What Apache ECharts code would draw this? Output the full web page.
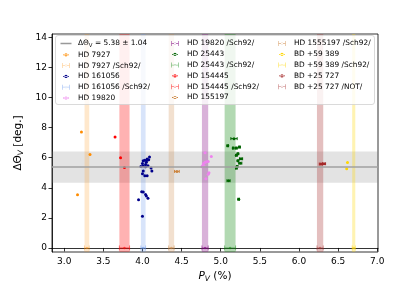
<!DOCTYPE html>
<html><head><meta charset="utf-8">
<script src="https://cdn.jsdelivr.net/npm/echarts@6/dist/echarts.min.js"></script>
<style>html,body{margin:0;padding:0;background:#fff}#c{width:420px;height:289px}</style>
</head><body><div id="c"></div>
<script>
// ---- data ----
const xTicks = [3.0, 3.5, 4.0, 4.5, 5.0, 5.5, 6.0, 6.5, 7.0];
const yTicks = [0, 2, 4, 6, 8, 10, 12, 14];
const meanDTheta = 5.38, stdDTheta = 1.04;

const hd7927_P = [3.22, 3.33, 3.17];
const hd7927_T = [7.71, 6.22, 3.53];

const hd154445_P = [3.65, 3.72, 3.77];
const hd154445_T = [7.38, 6.00, 5.35];

const hd161056_P = [4.09, 4.06, 4.03, 4.06, 4.01, 4.08, 4.00, 4.04, 4.05, 3.98, 4.01, 4.04, 4.07, 4.11, 4.01, 4.12, 4.00, 4.03, 4.06, 3.99, 4.01, 4.04, 4.05, 4.07, 3.95, 4.00];
const hd161056_T = [6.05, 5.92, 5.83, 5.83, 5.80, 5.87, 5.62, 5.55, 5.70, 5.42, 5.45, 5.40, 5.47, 5.31, 5.11, 5.11, 4.93, 4.80, 4.80, 3.74, 3.72, 3.55, 3.45, 3.31, 3.20, 2.10];

const hd155197_P = [4.44];
const hd155197_T = [5.09];
const hd155197_E = [0.03];

const hd19820_P = [4.80, 4.88, 4.82, 4.80, 4.84, 4.78, 4.77, 4.76, 4.79, 4.85, 4.84, 4.81];
const hd19820_T = [6.33, 6.09, 5.73, 5.70, 5.75, 5.62, 5.47, 5.40, 5.42, 5.00, 4.90, 4.60];

const hd25443_P = [5.17, 5.09, 5.16, 5.20, 5.24, 5.22, 5.20, 5.26, 5.22, 5.25, 5.21, 5.20, 5.10, 5.23];
const hd25443_T = [7.27, 6.80, 6.64, 6.64, 6.71, 6.27, 6.16, 5.93, 5.80, 5.64, 5.42, 5.31, 4.47, 3.24];
const hd25443_E = [0.04, 0.01, 0.01, 0.01, 0.01, 0.01, 0.01, 0.02, 0.01, 0.02, 0.01, 0.01, 0.02, 0.01];

const bd25727_P = [6.28, 6.32];
const bd25727_T = [5.58, 5.60];
const bd25727_E = [0.02, 0.02];

const bd59389_P = [6.62, 6.61];
const bd59389_T = [5.69, 5.27];

// reference (Sch92 / NOT) polarizations: centre and error
const refNames  = ['HD 7927 /Sch92/', 'HD 161056 /Sch92/', 'HD 19820 /Sch92/', 'HD 25443 /Sch92/', 'HD 154445 /Sch92/', 'HD 1555197 /Sch92/', 'BD +59 389 /Sch92/', 'BD +25 727 /NOT/'];
const refP      = [3.29, 4.01, 4.80, 5.12, 3.77, 4.37, 6.70, 6.27];
const refErr    = [0.03, 0.03, 0.04, 0.07, 0.065, 0.035, 0.02, 0.04];

// ---- styles ----
const FONT = 'DejaVu Sans';
const refLine = ['rgba(255,140,0,0.35)', 'rgba(100,149,237,0.45)', 'rgba(128,0,128,0.55)', 'rgba(0,128,0,0.45)', 'rgba(255,0,0,0.55)', 'rgba(205,133,63,0.5)', 'rgba(255,215,0,0.5)', 'rgba(165,42,42,0.45)'];
const refBand = ['rgba(255,140,0,0.2)', 'rgba(100,149,237,0.25)', 'rgba(128,0,128,0.3)', 'rgba(0,128,0,0.3)', 'rgba(255,0,0,0.3)', 'rgba(205,133,63,0.25)', 'rgba(255,215,0,0.3)', 'rgba(165,42,42,0.3)'];

function zip(P, T, E) { return P.map((p, i) => [p, T[i], E ? E[i] : 0]); }

function errRender(capH, r) {
  return function (params, api) {
    const x = api.value(0), y = api.value(1), e = api.value(2);
    const c = api.coord([x, y]);
    const color = api.visual('color');
    const st = { stroke: color, lineWidth: 1 };
    const ch = [];
    if (e > 0) {
      const p1 = api.coord([x - e, y]), p2 = api.coord([x + e, y]);
      ch.push({ type: 'line', shape: { x1: p1[0], y1: p1[1], x2: p2[0], y2: p2[1] }, style: st });
      ch.push({ type: 'line', shape: { x1: p1[0], y1: p1[1] - capH, x2: p1[0], y2: p1[1] + capH }, style: st });
      ch.push({ type: 'line', shape: { x1: p2[0], y1: p2[1] - capH, x2: p2[0], y2: p2[1] + capH }, style: st });
    }
    ch.push({ type: 'circle', shape: { cx: c[0], cy: c[1], r: r }, style: { fill: color } });
    return { type: 'group', children: ch };
  };
}

const stars = [
  ['HD 7927', '#ff8c00', zip(hd7927_P, hd7927_T)],
  ['HD 161056', '#00008b', zip(hd161056_P, hd161056_T)],
  ['HD 19820', '#ee82ee', zip(hd19820_P, hd19820_T)],
  ['HD 25443', '#006400', zip(hd25443_P, hd25443_T, hd25443_E)],
  ['HD 154445', '#ff0000', zip(hd154445_P, hd154445_T)],
  ['HD 155197', '#cd853f', zip(hd155197_P, hd155197_T, hd155197_E)],
  ['BD +59 389', '#ffd700', zip(bd59389_P, bd59389_T)],
  ['BD +25 727', '#a52a2a', zip(bd25727_P, bd25727_T, bd25727_E)]
];

const series = [];
series.push({
  name: 'mean', type: 'custom', z: 1, data: [], renderItem: () => null,
  itemStyle: { color: '#999' },
  markArea: { silent: true, itemStyle: { color: 'rgba(128,128,128,0.22)' },
    data: [[{ yAxis: meanDTheta - stdDTheta }, { yAxis: meanDTheta + stdDTheta }]] },
  markLine: { silent: true, symbol: 'none', label: { show: false },
    lineStyle: { color: '#a0a0a0', width: 1.5, type: 'solid' },
    data: [{ yAxis: meanDTheta }] }
});
refNames.forEach((n, i) => {
  series.push({
    name: n, type: 'custom', z: 2,
    itemStyle: { color: refLine[i] },
    data: [[refP[i], 0, refErr[i]]],
    renderItem: errRender(2.5, 1.2),
    markArea: { silent: true, itemStyle: { color: refBand[i] },
      data: [[{ xAxis: refP[i] - refErr[i] }, { xAxis: refP[i] + refErr[i] }]] }
  });
});
stars.forEach(s => {
  series.push({
    name: s[0], type: 'custom', z: 3,
    itemStyle: { color: s[1] }, data: s[2], renderItem: errRender(1.5, 1.5)
  });
});
// legend frame: decoration box behind the legend text, above the bands
series.push({
  name: '__legendFrame', type: 'custom', z: 6, silent: true, clip: false,
  data: [[5, 7]],
  renderItem: function () {
    return { type: 'rect', silent: true,
      shape: { x: 55.5, y: 35.5, width: 319, height: 69, r: 2.5 },
      style: { fill: 'rgba(255,255,255,0.8)', stroke: '#d0d0d0', lineWidth: 0.8 } };
  }
});

const A = 'M0,0h0.01v0.01h-0.01z M14,8h-0.01v-0.01h0.01z ';
const iconLine = 'path://' + A + 'M1.5,3.3h11v1.4h-11z';
const iconRef  = 'path://' + A + 'M3,3.6h8v0.8h-8z M3,1.5h0.8v5h-0.8z M10.2,1.5h0.8v5h-0.8z M6,4a1,1 0 1,0 2,0a1,1 0 1,0 -2,0z';
const iconPt   = 'path://' + A + 'M4,3.6h6v0.8h-6z M5.4,4a1.6,1.6 0 1,0 3.2,0a1.6,1.6 0 1,0 -3.2,0z';
function li(n) { return { name: n, icon: n === 'mean' ? iconLine : (/\/(Sch92|NOT)\//.test(n) ? iconRef : iconPt) }; }

const cols = [
  ['mean', 'HD 7927', 'HD 7927 /Sch92/', 'HD 161056', 'HD 161056 /Sch92/', 'HD 19820'],
  ['HD 19820 /Sch92/', 'HD 25443', 'HD 25443 /Sch92/', 'HD 154445', 'HD 154445 /Sch92/', 'HD 155197'],
  ['HD 1555197 /Sch92/', 'BD +59 389', 'BD +59 389 /Sch92/', 'BD +25 727', 'BD +25 727 /NOT/']
];
const colLeft = [59, 168, 275];
const legendText = {
  fontFamily: FONT, fontSize: 7.4, color: '#000', lineHeight: 8,
  rich: {
    n: { fontFamily: FONT, fontSize: 7.4, color: '#000' },
    s: { fontFamily: FONT, fontSize: 5.4, color: '#000', padding: [4, 0, 0, 0] }
  }
};
const legends = cols.map((c, i) => ({
  orient: 'vertical', left: colLeft[i], top: 39.5, padding: 0,
  itemWidth: 14, itemHeight: 8, itemGap: 2.8, symbolKeepAspect: false,
  selectedMode: false, z: 101,
  data: c.map(li), textStyle: legendText,
  formatter: n => n === 'mean' ? '{n|ΔΘ}{s|V}{n| = ' + meanDTheta.toFixed(2) + ' ± ' + stdDTheta.toFixed(2) + '}' : n
}));

const chart = echarts.init(document.getElementById('c'));
chart.setOption({
  animation: false,
  grid: { left: 52, right: 42, top: 34, bottom: 37, show: true, borderColor: '#000', borderWidth: 0.8, backgroundColor: 'transparent' },
  legend: legends,
  xAxis: {
    type: 'value', min: 2.844, max: 7.01,
    name: '{i|P}{s|V}{n| (%)}', nameLocation: 'middle', nameGap: 17,
    nameTextStyle: { rich: {
      i: { fontFamily: FONT, fontSize: 10.5, fontStyle: 'italic', color: '#000' },
      s: { fontFamily: FONT, fontSize: 7.5, fontStyle: 'italic', color: '#000', padding: [5, 0, 0, 0] },
      n: { fontFamily: FONT, fontSize: 10.5, color: '#000' } } },
    splitLine: { show: false },
    axisLine: { show: true, lineStyle: { color: '#000', width: 0.8 } },
    axisTick: { show: true, length: 3.5, customValues: xTicks, lineStyle: { color: '#000', width: 0.8 } },
    axisLabel: { customValues: xTicks, formatter: v => v.toFixed(1), fontFamily: FONT, fontSize: 9, color: '#000', margin: 5 }
  },
  yAxis: {
    type: 'value', min: -0.27, max: 14.23,
    name: '{n|ΔΘ}{s|V}{n| [deg.]}', nameLocation: 'middle', nameGap: 18,
    nameTextStyle: { rich: {
      n: { fontFamily: FONT, fontSize: 10.5, color: '#000' },
      s: { fontFamily: FONT, fontSize: 7.5, fontStyle: 'italic', color: '#000', padding: [5, 0, 0, 0] } } },
    splitLine: { show: false },
    axisLine: { show: true, lineStyle: { color: '#000', width: 0.8 } },
    axisTick: { show: true, length: 3.5, customValues: yTicks, lineStyle: { color: '#000', width: 0.8 } },
    axisLabel: { customValues: yTicks, fontFamily: FONT, fontSize: 9, color: '#000', margin: 5 }
  },
  series: series
});
</script></body></html>
